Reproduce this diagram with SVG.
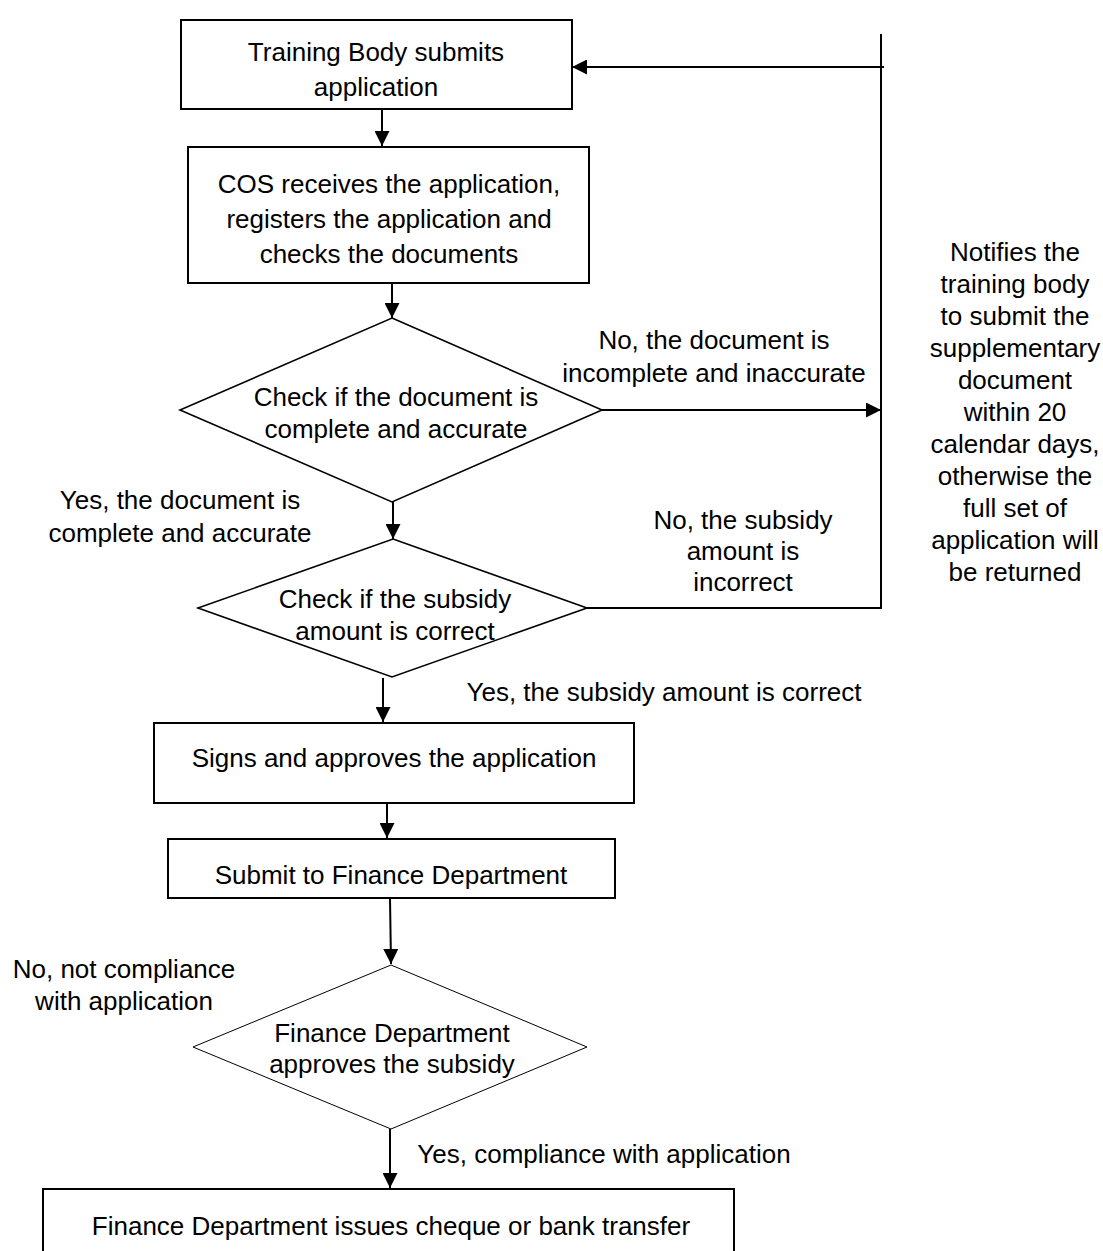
<svg xmlns="http://www.w3.org/2000/svg" width="1103" height="1251" viewBox="0 0 1103 1251">
<defs>
<marker id="ah" markerUnits="userSpaceOnUse" markerWidth="15" markerHeight="15" refX="15" refY="7.5" orient="auto">
<path d="M0,0 L15,7.5 L0,15 z" fill="#000"/>
</marker>
<style>
.box{fill:#fff;stroke:#000;stroke-width:2}
.dia{fill:#fff;stroke:#000;stroke-width:1.6}
.dia3{fill:#fff;stroke:#000;stroke-width:1}
.con{fill:none;stroke:#000;stroke-width:2}
.arr{fill:none;stroke:#000;stroke-width:2;marker-end:url(#ah)}
text{font-family:"Liberation Sans",Arial,sans-serif;font-size:26px;fill:#000;text-anchor:middle}
</style>
</defs>
<rect width="1103" height="1251" fill="#fff"/>

<g id="connectors">
<line class="arr" x1="382" y1="109" x2="382" y2="146"/>
<line class="arr" x1="392" y1="283" x2="392" y2="318"/>
<line class="arr" x1="602" y1="410" x2="881" y2="410"/>
<line class="arr" x1="393" y1="502" x2="393" y2="539"/>
<polyline class="con" points="587,608 881,608 881,34"/>
<line class="arr" x1="884" y1="67" x2="572" y2="67"/>
<line class="arr" x1="383" y1="678" x2="383" y2="722"/>
<line class="arr" x1="387" y1="803" x2="387" y2="838"/>
<line class="arr" x1="390" y1="898" x2="391" y2="964"/>
<line class="arr" x1="390" y1="1129" x2="390" y2="1188"/>
</g>

<g id="n1">
<rect class="box" x="181" y="20" width="391" height="89"/>
<text x="376" y="61">Training Body submits</text>
<text x="376" y="96">application</text>
</g>

<g id="n2">
<rect class="box" x="188" y="147" width="401" height="136"/>
<text x="389" y="193">COS receives the application,</text>
<text x="389" y="228">registers the application and</text>
<text x="389" y="263">checks the documents</text>
</g>

<g id="d1">
<polygon class="dia" points="392,318 602,410 392,502 180,410"/>
<text x="396" y="406">Check if the document is</text>
<text x="396" y="438">complete and accurate</text>
</g>

<g id="d2">
<polygon class="dia" points="393,539 587,608 392,677 198,608"/>
<text x="395" y="608">Check if the subsidy</text>
<text x="395" y="640">amount is correct</text>
</g>

<g id="n3">
<rect class="box" x="154" y="723" width="480" height="80"/>
<text x="394" y="767">Signs and approves the application</text>
</g>

<g id="n4">
<rect class="box" x="168" y="839" width="447" height="59"/>
<text x="391" y="884">Submit to Finance Department</text>
</g>

<g id="d3">
<polygon class="dia3" points="391,965 587,1047 391,1129 193,1047"/>
<text x="392" y="1042">Finance Department</text>
<text x="392" y="1073">approves the subsidy</text>
</g>

<g id="n5">
<rect class="box" x="43" y="1189" width="691" height="80"/>
<text x="391" y="1235">Finance Department issues cheque or bank transfer</text>
</g>

<g id="labels">
<text x="714" y="349">No, the document is</text>
<text x="714" y="382">incomplete and inaccurate</text>
<text x="180" y="509">Yes, the document is</text>
<text x="180" y="542">complete and accurate</text>
<text x="743" y="529">No, the subsidy</text>
<text x="743" y="560">amount is</text>
<text x="743" y="591">incorrect</text>
<text x="664" y="701">Yes, the subsidy amount is correct</text>
<text x="124" y="978">No, not compliance</text>
<text x="124" y="1010">with application</text>
<text x="604" y="1163">Yes, compliance with application</text>
</g>

<g id="note">
<text x="1015" y="261">Notifies the</text>
<text x="1015" y="293">training body</text>
<text x="1015" y="325">to submit the</text>
<text x="1015" y="357">supplementary</text>
<text x="1015" y="389">document</text>
<text x="1015" y="421">within 20</text>
<text x="1015" y="453">calendar days,</text>
<text x="1015" y="485">otherwise the</text>
<text x="1015" y="517">full set of</text>
<text x="1015" y="549">application will</text>
<text x="1015" y="581">be returned</text>
</g>
</svg>
